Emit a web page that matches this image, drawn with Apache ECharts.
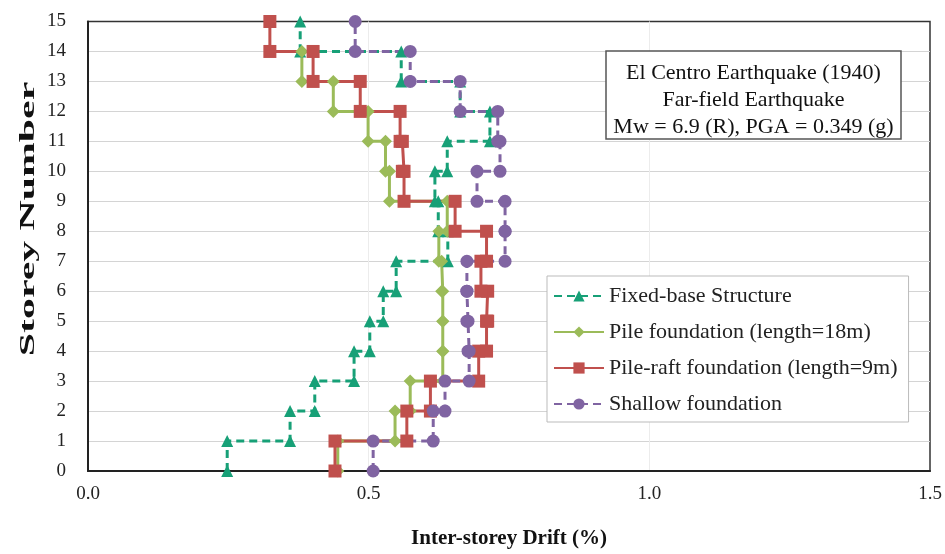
<!DOCTYPE html>
<html>
<head>
<meta charset="utf-8">
<script src="https://cdn.jsdelivr.net/npm/echarts@6/dist/echarts.min.js"></script>
<style>
html,body{margin:0;padding:0;background:#fff;}
#chart{width:945px;height:554px;}
</style>
</head>
<body>
<div id="chart"></div>
<script>
// Storey levels (y-axis ticks)
const storeyTicks = [0,1,2,3,4,5,6,7,8,9,10,11,12,13,14,15];
const driftTicks = [0.0, 0.5, 1.0, 1.5];

// Inter-storey drift (%) for each storey span (0-1, 1-2, ...)
const fixedBase = [0.248,0.360,0.404,0.474,0.502,0.526,0.549,0.641,0.624,0.618,0.640,0.716,0.663,0.558,0.378];
const pileFoundation = [0.445,0.547,0.574,0.632,0.632,0.632,0.630,0.625,0.640,0.537,0.530,0.499,0.437,0.381];
const pileRaft = [0.440,0.568,0.610,0.696,0.710,0.712,0.700,0.710,0.654,0.563,0.560,0.556,0.485,0.401,0.324];
const shallow = [0.508,0.615,0.636,0.679,0.677,0.675,0.675,0.743,0.743,0.693,0.734,0.730,0.663,0.574,0.476];

const seriesNames = ['Fixed-base Structure','Pile foundation (length=18m)','Pile-raft foundation (length=9m)','Shallow foundation'];
const annotation = ['El Centro Earthquake (1940)','Far-field Earthquake','Mw = 6.9 (R), PGA = 0.349 (g)'];
const xTitle = 'Inter-storey Drift (%)';
const yTitle = 'Storey Number';

function stepPoints(vals){
  const pts = [];
  vals.forEach((v,i)=>{ pts.push([v, storeyTicks[i]]); pts.push([v, storeyTicks[i+1]]); });
  return pts;
}

const serif = 'Liberation Serif';
const chart = echarts.init(document.getElementById('chart'), null, {renderer:'canvas'});

function mk(name, vals, color, symbol, size, dashed){
  return {
    name, type:'line', data: stepPoints(vals),
    symbol, symbolSize:size, showAllSymbol:true,
    lineStyle:{color, width:3, type: dashed ? [8,5] : 'solid'},
    itemStyle:{color, borderWidth:0},
    emphasis:{disabled:true}, animation:false, z:2
  };
}

chart.setOption({
  animation:false,
  grid:{left:88, right:15, top:21.5, bottom:82.5, show:true, borderColor:'#333', borderWidth:1.5, backgroundColor:'transparent'},
  xAxis:{
    type:'value', min:0, max:1.5, interval:0.5,
    name:xTitle, nameLocation:'middle', nameGap:57,
    nameTextStyle:{fontFamily:serif, fontSize:21, fontWeight:'bold', color:'#111'},
    axisLine:{show:true, onZero:false, lineStyle:{color:'#222', width:2}},
    axisTick:{show:false},
    axisLabel:{fontFamily:serif, fontSize:19, color:'#222', margin:14, formatter:v=>v.toFixed(1)},
    splitLine:{show:true, showMinLine:false, showMaxLine:false, lineStyle:{color:'#ececec', width:1}}
  },
  yAxis:{
    type:'value', min:0, max:15, interval:1,
    axisLine:{show:true, onZero:false, lineStyle:{color:'#222', width:2}},
    axisTick:{show:false},
    axisLabel:{fontFamily:serif, fontSize:19, color:'#222', margin:22},
    splitLine:{show:true, showMinLine:false, showMaxLine:false, lineStyle:{color:'#d4d4d4', width:1}}
  },
  legend:{
    orient:'vertical', left:547, top:276,
    data:seriesNames,
    backgroundColor:'#fff', borderColor:'#bbb', borderWidth:1,
    padding:[9,11,7,6], itemGap:14, itemWidth:50, itemHeight:14,
    textStyle:{fontFamily:serif, fontSize:22, lineHeight:22, color:'#222'}
  },
  graphic:[
    {type:'rect', shape:{x:606, y:51, width:295, height:88}, style:{fill:'#fff', stroke:'#555', lineWidth:1.5}, z:10},
    {type:'text', x:753.5, y:60, style:{text:annotation.join('\n'), fontFamily:serif, fontSize:22, lineHeight:27, fill:'#111', textAlign:'center', textVerticalAlign:'top'}, z:11},
    {type:'text', x:28, y:219, rotation:Math.PI/2, scaleX:1.9, style:{text:yTitle, fontFamily:serif, fontSize:22, fontWeight:'bold', fill:'#111', textAlign:'center', textVerticalAlign:'middle'}, z:11}
  ],
  series:[
    mk(seriesNames[0], fixedBase, '#17a077', 'triangle', 12, true),
    mk(seriesNames[1], pileFoundation, '#9bbb59', 'diamond', 13, false),
    mk(seriesNames[2], pileRaft, '#c0504d', 'rect', 13, false),
    mk(seriesNames[3], shallow, '#8064a2', 'circle', 13, true)
  ]
});
</script>
</body>
</html>
